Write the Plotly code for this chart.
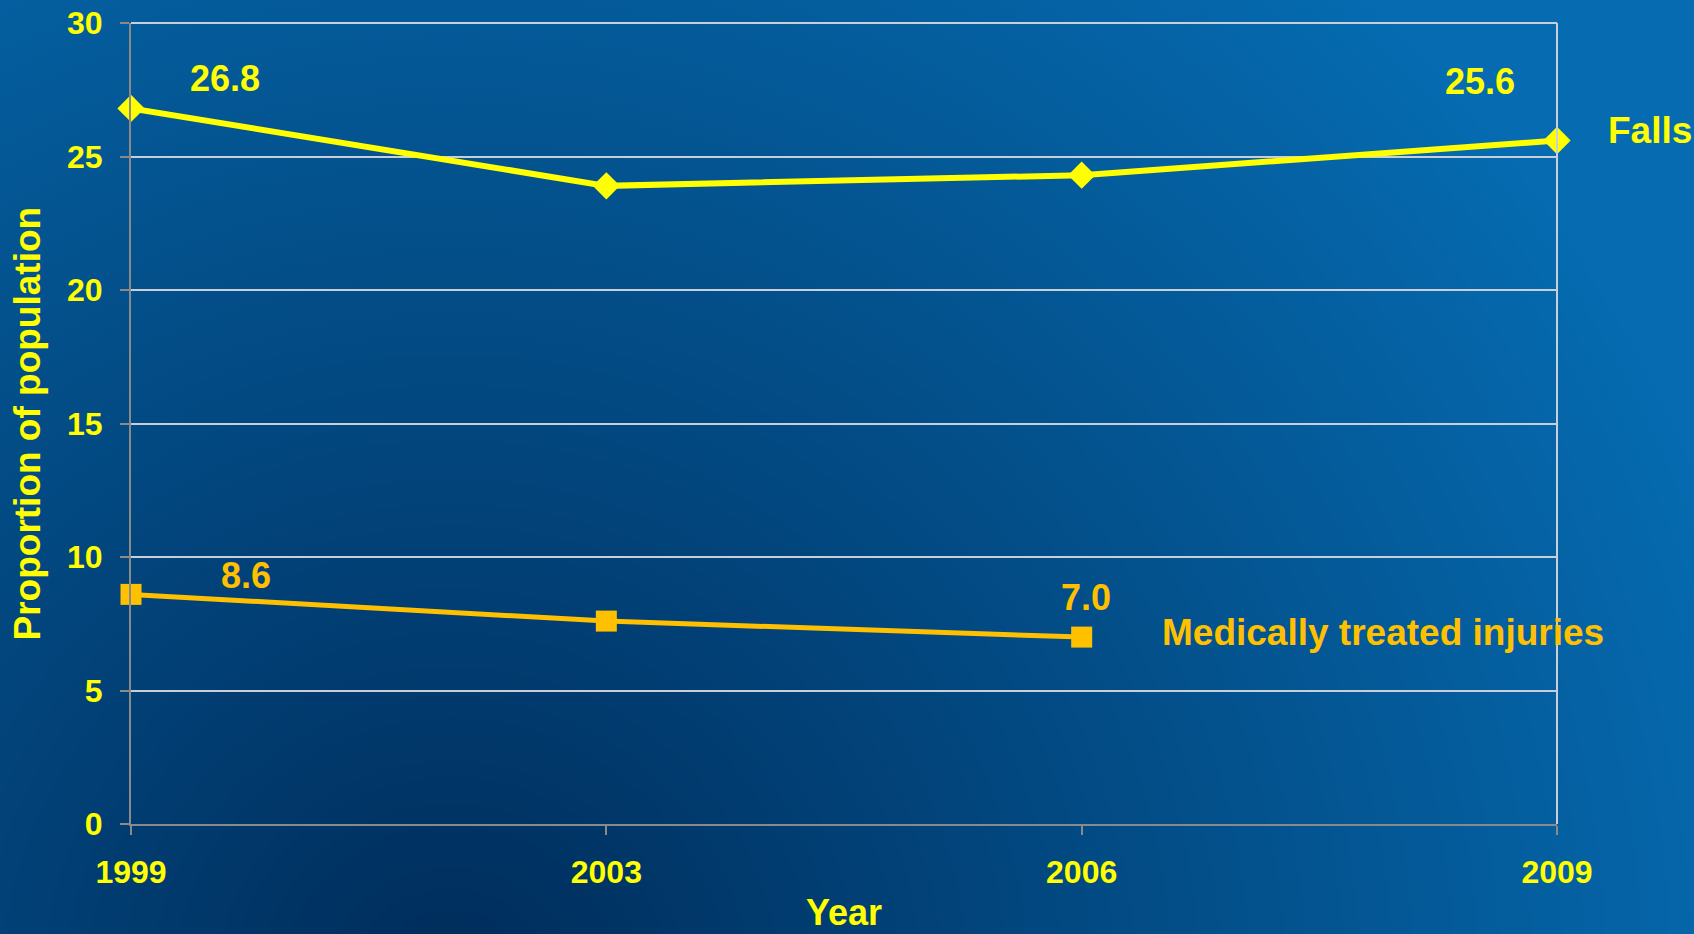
import base64
import struct
import zlib

import numpy as np
import plotly.graph_objects as go

# ---- data ----
years = ["1999", "2003", "2006", "2009"]
falls = [26.8, 23.9, 24.3, 25.6]
injuries = [8.6, 7.6, 7.0, None]
y_ticks = [0, 5, 10, 15, 20, 25, 30]

W, H = 1694, 934
YELLOW = "#FFFF00"
GOLD = "#FFC000"
GRID = "#C9CFD8"
AXIS = "#8A8A8A"
FONT = "Arial, Liberation Sans, sans-serif"

# years sit at evenly spaced positions along the x axis
xpos = list(range(len(years)))


def gradient_png(w, h):
    """Blue slide background: dark navy low-left, brighter blue top-right."""
    xs = np.linspace(0, W, w)
    ys = np.linspace(0, H, h)
    gx, gy = np.meshgrid(xs, ys)
    d = np.sqrt((gx - 450) ** 2 + (gy - 1000) ** 2)
    t = np.clip(d / 1350.0, 0, 1)[..., None]
    dark = np.array([0x00, 0x2C, 0x5A], float)
    light = np.array([0x06, 0x6B, 0xB0], float)
    img = (dark + (light - dark) * t).astype(np.uint8)
    raw = b"".join(b"\x00" + img[r].tobytes() for r in range(h))

    def chunk(tag, data):
        c = struct.pack(">I", len(data)) + tag + data
        return c + struct.pack(">I", zlib.crc32(tag + data) & 0xFFFFFFFF)

    png = b"\x89PNG\r\n\x1a\n"
    png += chunk(b"IHDR", struct.pack(">IIBBBBB", w, h, 8, 2, 0, 0, 0))
    png += chunk(b"IDAT", zlib.compress(raw, 9))
    png += chunk(b"IEND", b"")
    return "data:image/png;base64," + base64.b64encode(png).decode()


# plot area in pixels
X0, X1 = 131, 1557
Y_TOP, Y_BOT = 23, 824

fig = go.Figure()

fig.add_trace(go.Scatter(
    x=xpos, y=falls, mode="lines+markers", name="Falls",
    line=dict(color=YELLOW, width=6),
    marker=dict(symbol="diamond", size=21, color=YELLOW),
    cliponaxis=False,
))
fig.add_trace(go.Scatter(
    x=xpos, y=injuries, mode="lines+markers", name="Medically treated injuries",
    line=dict(color=GOLD, width=5),
    marker=dict(symbol="square", size=21, color=GOLD),
    cliponaxis=False,
))

# value labels
label_specs = [
    (falls, 0, YELLOW, 94, 30),
    (falls, 3, YELLOW, -77, 59),
    (injuries, 0, GOLD, 115, 19),
    (injuries, 2, GOLD, 4, 40),
]
annotations = []
for series, i, col, dx, dy in label_specs:
    annotations.append(dict(
        x=xpos[i], y=series[i], xref="x", yref="y",
        text=f"{series[i]:.1f}", showarrow=False,
        xshift=dx, yshift=dy,
        font=dict(family=FONT, size=36, color=col),
    ))

# series names beside the lines
annotations.append(dict(
    x=xpos[3], y=falls[3], xref="x", yref="y", text="Falls", showarrow=False,
    xanchor="left", xshift=49, yshift=10,
    font=dict(family=FONT, size=37, color=YELLOW),
))
annotations.append(dict(
    x=xpos[2], y=injuries[2], xref="x", yref="y",
    text="Medically treated injuries", showarrow=False,
    xanchor="left", xshift=78, yshift=5,
    font=dict(family=FONT, size=37, color=GOLD),
))

# axis titles
annotations.append(dict(
    x=0.5, y=0, xref="x domain", yref="paper", text="Year",
    showarrow=False, xanchor="center", yanchor="bottom", borderpad=0,
    font=dict(family=FONT, size=36, color=YELLOW),
))
annotations.append(dict(
    x=27 / W, y=0.5, xref="paper", yref="y domain",
    text="Proportion of population", textangle=-90,
    showarrow=False, xanchor="center", yanchor="middle",
    font=dict(family=FONT, size=37, color=YELLOW),
))
for a in annotations:
    a["text"] = "<b>" + a["text"] + "</b>"

# top and right-hand frame of the plot area
shapes = [
    dict(type="line", xref="x domain", yref="y domain",
         x0=1, x1=1, y0=0, y1=1, line=dict(color=GRID, width=2)),
    dict(type="line", xref="x domain", yref="y domain",
         x0=0, x1=1, y0=1, y1=1, line=dict(color=GRID, width=2)),
]

fig.update_layout(
    width=W, height=H,
    margin=dict(l=0, r=0, t=0, b=0),
    paper_bgcolor="#003A70",
    plot_bgcolor="rgba(0,0,0,0)",
    showlegend=False,
    annotations=annotations,
    shapes=shapes,
    images=[dict(
        source=gradient_png(424, 234), xref="paper", yref="paper",
        x=0, y=1, sizex=1, sizey=1, sizing="stretch",
        xanchor="left", yanchor="top", layer="below",
    )],
    xaxis=dict(
        range=[0, 3], tickvals=xpos, ticktext=years,
        domain=[X0 / W, X1 / W],
        showgrid=False, zeroline=False,
        showline=True, linecolor=AXIS, linewidth=2,
        ticks="outside", ticklen=9, tickwidth=2, tickcolor=AXIS,
        ticklabelstandoff=10,
        tickfont=dict(family=FONT, size=32, color=YELLOW, weight="bold"),
        automargin=False,
    ),
    yaxis=dict(
        range=[0, 30], tickvals=y_ticks,
        domain=[(H - Y_BOT) / H, (H - Y_TOP) / H],
        showgrid=True, gridcolor=GRID, gridwidth=2,
        zeroline=False,
        showline=True, linecolor=AXIS, linewidth=2,
        ticks="outside", ticklen=9, tickwidth=2, tickcolor=AXIS,
        ticklabelstandoff=11,
        tickfont=dict(family=FONT, size=32, color=YELLOW, weight="bold"),
        automargin=False,
    ),
)

fig.write_html("out.html")
